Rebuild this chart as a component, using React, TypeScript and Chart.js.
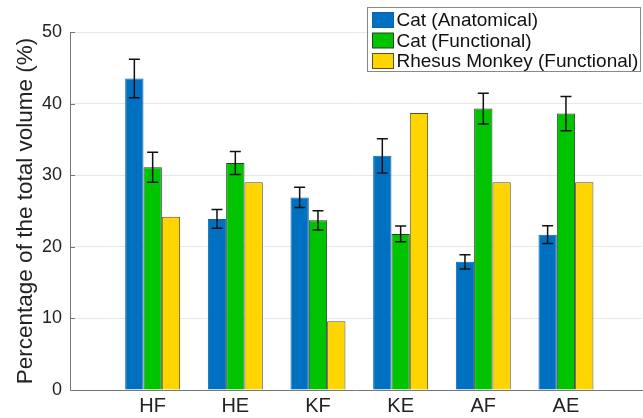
import React, { useEffect, useRef } from "react";
import { Chart, registerables } from "chart.js";

Chart.register(...registerables);

const categories = ["HF", "HE", "KF", "KE", "AF", "AE"];
const seriesNames = ["Cat (Anatomical)", "Cat (Functional)", "Rhesus Monkey (Functional)"];
const catAnatomical = [43.5, 23.9, 26.9, 32.7, 17.9, 21.7];
const catAnatomicalErr = [2.7, 1.3, 1.4, 2.4, 1.0, 1.25];
const catFunctional = [31.1, 31.7, 23.7, 21.8, 39.3, 38.6];
const catFunctionalErr = [2.1, 1.6, 1.35, 1.1, 2.15, 2.4];
const rhesusFunctional = [24.2, 29.0, 9.6, 38.7, 29.0, 29.0];
const yTicks = [0, 10, 20, 30, 40, 50];

const colors = ["#0070C0", "#00C400", "#FFD500"];
const borders = ["#0a64ad", "#2f3a2f", "#5a5030"];

const FONT = "'Liberation Sans', Arial, Helvetica, sans-serif";

export default function App() {
  const ref = useRef<HTMLCanvasElement | null>(null);
  useEffect(() => {
    const canvas = ref.current;
    if (!canvas) return;
    const errs: (number[] | null)[] = [catAnatomicalErr, catFunctionalErr, null];
    const values = [catAnatomical, catFunctional, rhesusFunctional];

    const errorPlugin = {
      id: "errbars",
      afterDatasetsDraw(chart: any) {
        const ctx = chart.ctx;
        const yScale = chart.scales.y;
        ctx.save();
        ctx.strokeStyle = "#111";
        ctx.lineWidth = 1.5;
        values.forEach((vals, di) => {
          const e = errs[di];
          if (!e) return;
          const meta = chart.getDatasetMeta(di);
          meta.data.forEach((bar: any, i: number) => {
            const x = bar.x;
            const yt = yScale.getPixelForValue(vals[i] + e[i]);
            const yb = yScale.getPixelForValue(vals[i] - e[i]);
            ctx.beginPath();
            ctx.moveTo(x, yt);
            ctx.lineTo(x, yb);
            ctx.moveTo(x - 5.5, yt);
            ctx.lineTo(x + 5.5, yt);
            ctx.moveTo(x - 5.5, yb);
            ctx.lineTo(x + 5.5, yb);
            ctx.stroke();
          });
        });
        // inward y ticks
        const area = chart.chartArea;
        ctx.strokeStyle = "#777";
        ctx.lineWidth = 1;
        yTicks.forEach((t) => {
          const y = Math.round(yScale.getPixelForValue(t)) + 0.5;
          ctx.beginPath();
          ctx.moveTo(area.left, y);
          ctx.lineTo(area.left + 5, y);
          ctx.stroke();
        });
        ctx.restore();
      },
      afterDraw(chart: any) {
        const ctx = chart.ctx;
        ctx.save();
        const bx = 367.5, by = 7.5, bw = 273, bh = 64;
        ctx.fillStyle = "#fff";
        ctx.fillRect(bx, by, bw, bh);
        ctx.strokeStyle = "#888";
        ctx.lineWidth = 1;
        ctx.strokeRect(bx, by, bw, bh);
        ctx.font = `19px ${FONT}`;
        ctx.textBaseline = "middle";
        ctx.textAlign = "left";
        seriesNames.forEach((name, i) => {
          const cy = 20 + i * 20.5;
          ctx.fillStyle = colors[i];
          ctx.fillRect(372.5, cy - 7.5, 21, 15);
          ctx.strokeStyle = borders[i];
          ctx.strokeRect(372.5, cy - 7.5, 21, 15);
          ctx.fillStyle = "#111";
          ctx.fillText(name, 396.5, cy + 1);
        });
        ctx.restore();
      },
    };

    const chart = new Chart(canvas, {
      type: "bar",
      data: {
        datasets: values.map((vals, di) => ({
          label: seriesNames[di],
          data: vals.map((v, i) => ({ x: i + 1, y: v })),
          backgroundColor: colors[di],
          borderColor: borders[di],
          borderWidth: 1,
          categoryPercentage: 0.665,
          barPercentage: 1,
        })),
      },
      options: {
        responsive: false,
        animation: false,
        layout: { padding: { top: 32, right: 1, left: 0, bottom: 0 } },
        plugins: {
          legend: { display: false },
          tooltip: { enabled: false },
        },
        scales: {
          x: {
            type: "linear",
            offset: false,
            min: 0,
            max: 6.92,
            grid: { display: false, drawTicks: false },
            border: { display: true, color: "#777", width: 1 },
            afterBuildTicks: (scale: any) => {
              scale.ticks = categories.map((_, i) => ({ value: i + 1 }));
            },
            afterFit: (scale: any) => {
              scale.height = 28;
            },
            ticks: {
              autoSkip: false,
              maxRotation: 0,
              padding: 4,
              color: "#222",
              font: { family: FONT, size: 20 },
              callback: (v: any) => categories[Math.round(v) - 1] ?? "",
            },
          },
          y: {
            min: 0,
            max: 50,
            afterBuildTicks: (scale: any) => {
              scale.ticks = yTicks.map((v) => ({ value: v }));
            },
            afterFit: (scale: any) => {
              scale.width = 70;
            },
            grid: { color: "#e8e8e8", drawTicks: false },
            border: { display: true, color: "#777", width: 1 },
            ticks: {
              padding: 8,
              color: "#222",
              font: { family: FONT, size: 18 },
            },
            title: {
              display: true,
              text: "Percentage of the total volume (%)",
              color: "#222",
              font: { family: FONT, size: 22.5 },
              padding: { top: 12, bottom: 0 },
            },
          },
        },
      },
      plugins: [errorPlugin],
    });
    return () => chart.destroy();
  }, []);

  return (
    <div style={{ position: "absolute", left: 0, top: 0, width: 643, height: 418, background: "#fff" }}>
      <canvas ref={ref} width={643} height={418} />
    </div>
  );
}
